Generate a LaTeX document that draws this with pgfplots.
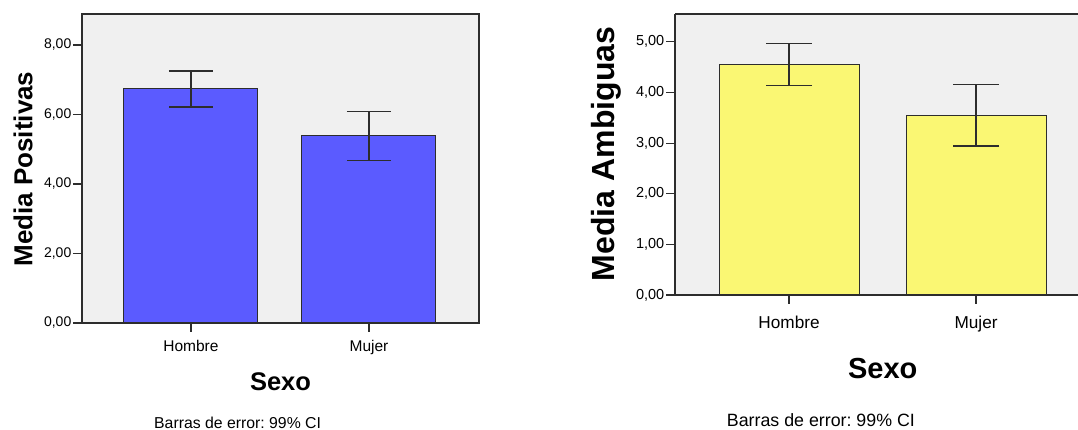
\documentclass[border=0pt]{standalone}
\usepackage{pgfplots}
\pgfplotsset{compat=1.18}
\usepackage{fontspec}
\setmainfont{Liberation Sans}
\frenchspacing

\definecolor{plotbg}{RGB}{240,240,240}
\definecolor{barblue}{RGB}{91,91,255}
\definecolor{baryellow}{RGB}{250,247,115}
\definecolor{edge}{RGB}{45,45,45}

\pgfplotsset{
  meanbars/.style={
    scale only axis,
    anchor=south west,
    clip=false,
    ymin=0,
    xtick={0,1}, xticklabels={Hombre,Mujer},
    tick align=outside, tick pos=left,
    major tick length=9pt,
    axis line style={edge, line width=1.4pt},
    tick style={edge, line width=1.2pt},
    axis background/.style={fill=plotbg},
    /pgf/number format/assume math mode=true,
    yticklabel style={/pgf/number format/fixed, /pgf/number format/fixed zerofill,
      /pgf/number format/precision=2, /pgf/number format/use comma},
    ylabel style={rotate=0, anchor=center},
    xlabel style={anchor=center},
  },
  cibars/.style={
    ybar, bar shift=0pt, draw=edge, line width=1pt,
    error bars/.cd, y dir=both, y explicit,
    error bar style={edge, line width=1.5pt},
    error mark options={edge, line width=1.5pt, rotate=90, mark size=#1},
  },
}

\begin{document}
\begin{tikzpicture}
\path[use as bounding box] (0,0) rectangle (1078pt,430pt);

% Media Positivas por sexo
\begin{axis}[meanbars,
  at={(82pt,107pt)},
  width=397pt, height=309pt,
  xmin=-0.612, xmax=1.618,
  ymax=8.89,
  ytick={0,2,4,6,8},
  bar width=134pt,
  yticklabel style={font=\fontsize{14}{16}\selectfont, inner sep=1.5pt},
  xticklabel style={font=\fontsize{15.5}{18}\selectfont, yshift=-5pt},
  ylabel={\fontsize{26}{30}\selectfont\bfseries Media Positivas},
  ylabel style={at={(axis description cs:-0.1486,0.498)}},
  xlabel={\fontsize{25.5}{30}\selectfont\bfseries Sexo},
  xlabel style={at={(axis description cs:0.5,-0.191)}},
]
\addplot[fill=barblue, cibars=22pt]
  coordinates {(0,6.735) +- (0,0.515) (1,5.385) +- (0,0.705)};
\node[font=\fontsize{15.8}{18}\selectfont] at (axis description cs:0.392,-0.324) {Barras de error: 99\% CI};
\end{axis}

% Media Ambiguas por sexo
\begin{axis}[meanbars,
  at={(675pt,135pt)},
  width=403pt, height=281pt,
  xmin=-0.61, xmax=1.545,
  ymax=5.55,
  ytick={0,1,2,3,4,5},
  axis x line*=box, axis y line*=left,
  bar width=140pt,
  yticklabel style={font=\fontsize{14.5}{17}\selectfont, inner sep=1.5pt},
  xticklabel style={font=\fontsize{17.2}{20}\selectfont, yshift=-9pt},
  ylabel={\fontsize{32}{36}\selectfont\bfseries Media Ambiguas},
  ylabel style={at={(axis description cs:-0.171,0.502)}},
  xlabel={\fontsize{29}{34}\selectfont\bfseries Sexo},
  xlabel style={at={(axis description cs:0.5156,-0.26)}},
]
\addplot[fill=baryellow, cibars=23pt]
  coordinates {(0,4.555) +- (0,0.415) (1,3.55) +- (0,0.61)};
\node[font=\fontsize{17.8}{20}\selectfont] at (axis description cs:0.362,-0.445) {Barras de error: 99\% CI};
\end{axis}
\end{tikzpicture}
\end{document}
